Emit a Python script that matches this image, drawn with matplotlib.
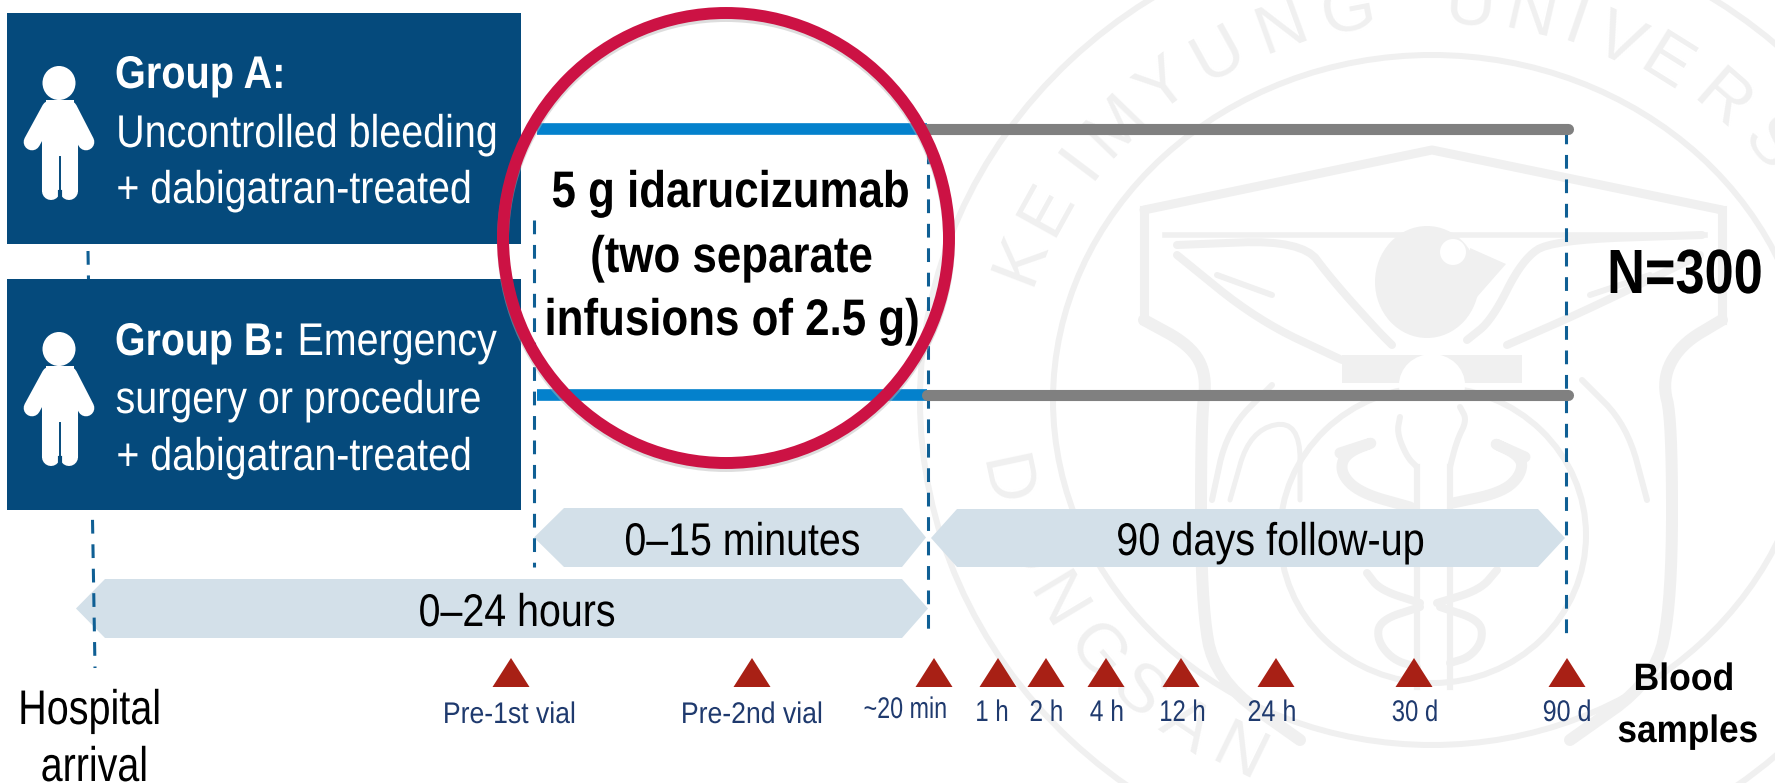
import numpy as np
import matplotlib
matplotlib.use('Agg')
import matplotlib.pyplot as plt
from matplotlib.patches import Polygon, Ellipse, Rectangle
from matplotlib.transforms import Affine2D
from matplotlib import patheffects as pe

FONT = 'Liberation Sans'
BOX = '#054a7c'; ARROW = '#d3e0e9'; RED = '#a82015'; NAVY = '#1f3a6e'
RING = '#cc1244'; BLUE = '#0481cc'; GRAY = '#808080'; DASH = '#0f5f94'; MARK = '#f0f0f0'

# blood sampling: triangle x, label, label left / right edge
sample_x = [511, 752, 934, 998, 1046, 1106, 1181, 1276, 1414, 1567]
sample_labels = ['Pre-1st vial', 'Pre-2nd vial', '~20 min', '1 h', '2 h', '4 h', '12 h', '24 h', '30 d', '90 d']
label_l = [445, 683, 865, 977, 1031, 1091, 1161, 1249, 1393, 1544]
label_r = [574, 821, 946, 1007, 1062, 1123, 1204, 1295, 1437, 1590]
label_base = [723, 723, 718, 721, 721, 721, 721, 721, 721, 721]

arrows = [('0–15 minutes', 534, 564, 902, 926, 508, 567, 626, 859, 555),
          ('90 days follow-up', 931, 957, 1538, 1565, 509, 567, 1118, 1423, 555),
          ('0–24 hours', 76, 105, 902, 928, 579, 638, 420, 614, 626)]
box_tops = [13, 279]
wm_top = list('KEIMYUNG') + list('UNIVERS')
wm_top_ang = [-69, -61, -53, -46, -37.5, -29, -20, -11, 5, 13, 19, 25, 32, 41, 50]
wm_bot = list('DONGSAN')
wm_bot_ang = [-102, -112, -121, -130, -138, -146, -154]

class FitWidth(pe.AbstractPathEffect):
    """Squeeze a text horizontally about its centre to a given pixel width."""
    def __init__(self, width):
        super().__init__()
        self.width = width
    def draw_path(self, renderer, gc, tpath, affine, rgbFace=None):
        ext = tpath.get_extents()
        s = self.width / (ext.width * abs(affine.get_matrix()[0, 0]))
        cx = (ext.x0 + ext.x1) / 2
        aff = Affine2D().translate(-cx, 0).scale(s, 1).translate(cx, 0) + affine
        renderer.draw_path(gc, tpath, aff, rgbFace)

fig = plt.figure(figsize=(17.75, 7.83), dpi=100)
ax = fig.add_axes([0, 0, 1, 1])
ax.set_xlim(0, 1775); ax.set_ylim(783, 0); ax.axis('off')

def txt(s, l, r, base, size, bold=False, color='black', z=8):
    ax.text((l+r)/2, base, s, ha='center', va='baseline', fontsize=size, family=FONT,
            fontweight='bold' if bold else 'normal', color=color, zorder=z,
            path_effects=[FitWidth(r-l)])

# ---- watermark
CX, CY = 1432, 400
def ell(cx, cy, rx, ry, lw=6, fc='none', ec=MARK, z=1):
    ax.add_patch(Ellipse((cx, cy), 2*rx, 2*ry, fc=fc, ec=ec, lw=lw*.72, zorder=z))
def pl(pts, lw=7, z=1):
    p = np.array(pts, float)
    for _ in range(3):
        q = .75*p[:-1] + .25*p[1:]; r = .25*p[:-1] + .75*p[1:]
        p = np.vstack([p[:1], np.column_stack([q, r]).reshape(-1, 2), p[-1:]])
    ax.plot(p[:, 0], p[:, 1], color=MARK, lw=lw*.72, zorder=z, solid_capstyle='round', solid_joinstyle='round')
ell(CX, CY, 512, 480); ell(CX, CY, 379, 345)
for ch, a in zip(wm_top, wm_top_ang):
    t = np.radians(a)
    ax.text(CX+440*np.sin(t), CY-395*np.cos(t), ch, rotation=-a, ha='center', va='center',
            fontsize=50, color=MARK, family=FONT, zorder=1, rotation_mode='anchor')
for ch, a in zip(wm_bot, wm_bot_ang):
    t = np.radians(a)
    ax.text(CX+440*np.sin(t), CY-395*np.cos(t), ch, rotation=-a-180, ha='center', va='center',
            fontsize=50, color=MARK, family=FONT, zorder=1, rotation_mode='anchor')
# shield
ax.plot([1144, 1432, 1722], [210, 150, 210], color=MARK, lw=6.5, zorder=1, solid_capstyle='round')
ax.plot([1144, 1144], [210, 320], color=MARK, lw=6.5, zorder=1)
ax.plot([1722, 1722], [210, 320], color=MARK, lw=6.5, zorder=1)
ax.plot([1165, 1705], [235, 235], color=MARK, lw=4, zorder=1)
pl([(1144, 320), (1190, 345), (1207, 375), (1201, 420), (1201, 600), (1215, 680), (1300, 740)], 12)
pl([(1722, 320), (1680, 345), (1662, 380), (1672, 420), (1672, 600), (1655, 680), (1570, 740)], 12)
ell(1433, 535, 153, 148, lw=6)
# lobes
pl([(1212, 500), (1227, 430), (1272, 385)], 6)
pl([(1647, 500), (1627, 425), (1582, 380)], 6)
pl([(1230, 500), (1250, 430), (1300, 420), (1300, 500)], 5)
# bird
ell(1427, 282, 52, 56, lw=0, fc=MARK)
ax.add_patch(Polygon([[1470, 248], [1506, 264], [1470, 305]], fc=MARK, ec='none', zorder=1))
ell(1453, 252, 13, 13, lw=0, fc='white')
pl([(1177, 245), (1302, 240), (1332, 280), (1377, 330), (1392, 345)], 8)
pl([(1177, 255), (1257, 320), (1342, 360)], 8)
pl([(1217, 275), (1272, 295)], 6)
pl([(1702, 235), (1552, 240), (1522, 260), (1492, 320), (1467, 340)], 8)
pl([(1700, 255), (1587, 310), (1507, 345)], 8)
pl([(1650, 275), (1590, 295)], 6)
ax.add_patch(Rectangle((1342, 355), 180, 28, fc=MARK, ec='none', zorder=1))
ell(1432, 385, 33, 31, lw=0, fc='white', z=1.1)
# caduceus
pl([(1340, 453), (1380, 440), (1345, 453), (1340, 473), (1360, 493), (1410, 507)], 11)
pl([(1525, 457), (1487, 440), (1523, 457), (1520, 477), (1500, 493), (1453, 503)], 11)
pl([(1400, 417), (1397, 433), (1407, 457), (1417, 467)], 6)
pl([(1460, 407), (1467, 420), (1457, 440), (1450, 467)], 6)
ax.plot([1417, 1417], [467, 687], color=MARK, lw=4.5, zorder=1)
ax.plot([1450, 1450], [467, 687], color=MARK, lw=4.5, zorder=1)
pl([(1367, 573), (1380, 590), (1420, 603)], 8)
pl([(1497, 570), (1480, 590), (1437, 603)], 8)
pl([(1420, 607), (1380, 620), (1377, 640), (1393, 660), (1417, 667)], 8)
pl([(1440, 607), (1480, 620), (1483, 640), (1470, 657), (1450, 663)], 8)

# ---- dashed guides
dash = dict(color=DASH, lw=2.2, ls=(0, (4.5, 3.5)), zorder=2)
ax.plot([88, 95], [251, 668], **dash)
ax.plot([534, 534], [220, 567], **dash)
ax.plot([928, 928], [150, 637], **dash)
ax.plot([1566, 1566], [130, 635], **dash)

# ---- group boxes
for y0 in box_tops:
    ax.add_patch(Rectangle((7, y0), 514, 231, fc=BOX, ec='none', zorder=3))
    dy = y0 - 13
    ax.add_patch(Ellipse((59, 83+dy), 33, 34, fc='white', ec='none', zorder=4))
    ax.add_patch(Rectangle((42, 108+dy), 36, 84, fc='white', ec='none', zorder=4))
    ax.add_patch(Rectangle((46, 100+dy), 28, 10, fc='white', ec='none', zorder=4))
    for x in (51, 69):
        ax.plot([x, x], [150+dy, 191+dy], color='white', lw=13, solid_capstyle='round', zorder=4)
    ax.plot([50, 32], [109+dy, 142+dy], color='white', lw=12, solid_capstyle='round', zorder=4)
    ax.plot([69, 86], [109+dy, 142+dy], color='white', lw=12, solid_capstyle='round', zorder=4)
    ax.plot([59.5, 59.5], [157+dy, 198+dy], color=BOX, lw=1.4, zorder=5)
    ax.plot([59.5, 59.5], [192+dy, 202+dy], color=BOX, lw=3, zorder=5)
white = dict(color='white')
txt('Group A:', 118, 283, 88, 33, True, **white)
txt('Uncontrolled bleeding', 119, 495, 147, 33, **white)
txt('+ dabigatran-treated', 119, 470, 203, 33, **white)
txt('Group B:', 118, 283, 355, 33, True, **white)
txt('Emergency', 299, 495, 355, 33, **white)
txt('surgery or procedure', 117, 480, 413, 33, **white)
txt('+ dabigatran-treated', 119, 470, 470, 33, **white)

# ---- treatment lines
for y in [128.5, 394.5]:
    ax.plot([537, 927], [y, y], color=BLUE, lw=8.4, solid_capstyle='butt', zorder=3)
    ax.plot([927, 1568], [y, y], color=GRAY, lw=8, solid_capstyle='round', zorder=3)

# ---- ring
ax.add_patch(Ellipse((726, 241), 446, 450, fc='none', ec='#b5b5b5', lw=8.6, alpha=.45, zorder=5.9))
ax.add_patch(Ellipse((726, 238), 446, 450, fc='none', ec=RING, lw=8.6, zorder=6))
txt('5 g idarucizumab', 553, 908, 207, 37, True)
txt('(two separate', 592, 871, 272, 37, True)
txt('infusions of 2.5 g)', 547, 917, 335, 37, True)

# ---- chevrons
for label, tl, sl, sr, tr, y0, y1, l, r, base in arrows:
    ym = (y0 + y1) / 2
    ax.add_patch(Polygon([[tl, ym], [sl, y0], [sr, y0], [tr, ym], [sr, y1], [sl, y1]], fc=ARROW, ec='none', zorder=1.5))
    txt(label, l, r, base, 33)

# ---- samples
for x in sample_x:
    ax.add_patch(Polygon([[x, 658], [x-18.5, 687], [x+18.5, 687]], fc=RED, ec='none', zorder=3))
for s, l, r, b in zip(sample_labels, label_l, label_r, label_base):
    txt(s, l, r, b, 21.5, color=NAVY)

txt('Hospital', 21, 158, 724, 35)
txt('arrival', 43, 146, 781, 35)
txt('Blood', 1636, 1732, 690, 27.5, True)
txt('samples', 1619, 1757, 742, 27.5, True)
txt('N=300', 1610, 1760, 293, 45, True)

fig.savefig('out.png', dpi=100)
